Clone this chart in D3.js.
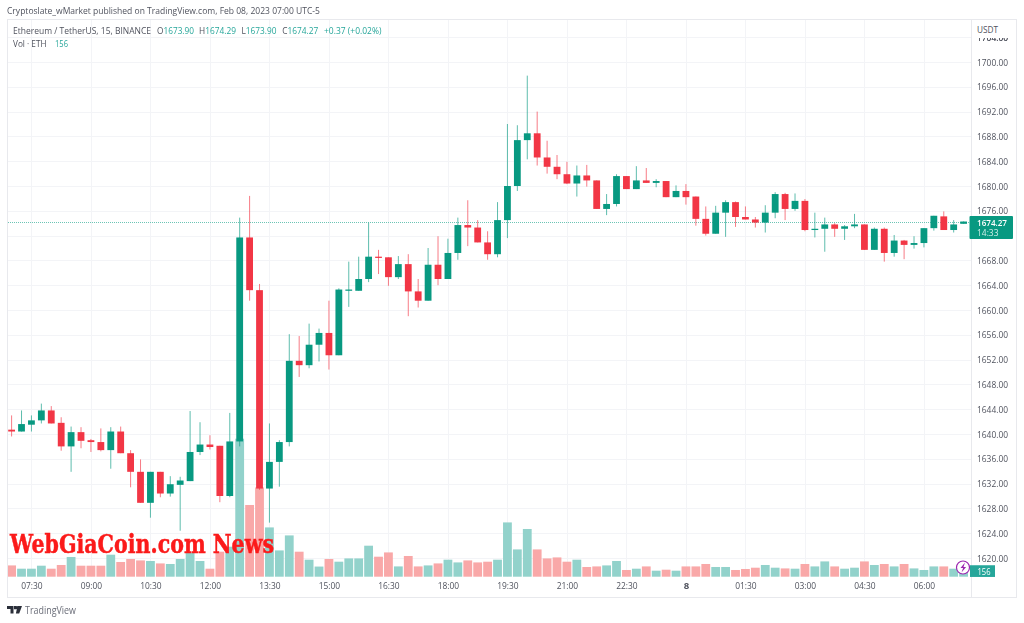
<!DOCTYPE html>
<html>
<head>
<meta charset="utf-8">
<script src="https://cdn.jsdelivr.net/npm/d3@7"></script>
<style>
  html, body { margin: 0; padding: 0; background: #fff; overflow: hidden; }
  svg { display: block; filter: blur(.35px); }
  text { font-family: "Open Sans", sans-serif; }
</style>
</head>
<body>
<svg id="chart" width="1024" height="623"></svg>
<script>
// 15 minute candles
const opens = [1640.7,1640.4,1641.5,1642.2,1643.8,1641.8,1638.0,1640.3,1639.0,1638.7,
  1637.4,1640.4,1636.9,1633.9,1628.9,1633.9,1630.4,1631.8,1632.4,1637.1,
  1638.3,1638.1,1630.0,1638.8,1671.7,1663.2,1631.2,1635.5,1638.7,1651.8,
  1651.1,1654.4,1656.3,1652.7,1663.1,1663.1,1665.0,1668.6,1668.5,1665.3,
  1667.4,1663.0,1661.5,1667.3,1665.0,1669.2,1673.7,1673.3,1670.9,1669.0,
  1674.5,1680.0,1687.4,1688.5,1684.6,1683.1,1681.9,1680.4,1681.7,1680.9,
  1676.3,1677.1,1681.6,1679.5,1680.9,1680.5,1680.8,1678.2,1679.2,1678.3,
  1674.7,1672.3,1675.7,1677.4,1675.0,1674.6,1674.1,1675.7,1678.7,1676.3,
  1677.6,1672.9,1673.1,1673.8,1673.1,1673.5,1673.8,1669.7,1673.1,1669.2,
  1671.2,1670.5,1670.8,1673.2,1675.1,1672.9,1673.90]
const highs = [1643.0,1643.8,1643.0,1644.9,1644.5,1642.7,1641.2,1641.1,1639.2,1640.9,
  1641.1,1641.2,1637.4,1635.9,1633.9,1633.9,1633.2,1633.1,1643.7,1641.9,
  1639.8,1638.1,1643.4,1674.9,1678.4,1664.2,1641.7,1639.0,1656.1,1655.8,
  1657.8,1657.0,1661.5,1663.5,1667.8,1668.6,1674.1,1669.7,1668.5,1668.7,
  1669.0,1665.0,1670.0,1671.9,1671.5,1674.9,1677.7,1674.5,1672.7,1677.4,
  1690.0,1689.8,1697.8,1692.0,1687.3,1685.0,1683.9,1683.3,1683.4,1680.9,
  1678.7,1681.9,1681.6,1683.2,1682.9,1681.1,1680.8,1680.1,1680.3,1678.3,
  1676.7,1676.8,1677.7,1677.5,1676.7,1675.0,1676.9,1679.0,1678.9,1678.8,
  1677.9,1675.7,1674.9,1674.0,1673.7,1675.5,1673.8,1673.3,1673.3,1672.1,
  1671.3,1671.9,1673.2,1675.2,1675.9,1674.5,1674.29]
const lows = [1639.6,1640.4,1640.4,1641.7,1641.7,1637.3,1633.9,1637.7,1637.1,1637.2,
  1634.4,1636.9,1631.4,1628.9,1626.5,1629.8,1629.9,1624.4,1632.4,1636.6,
  1637.5,1629.0,1629.8,1638.0,1661.5,1631.0,1625.7,1631.5,1638.0,1649.2,
  1650.6,1651.7,1650.4,1652.7,1660.5,1663.1,1664.5,1665.8,1663.9,1665.0,
  1659.0,1660.4,1661.5,1664.0,1665.0,1668.1,1670.3,1670.9,1668.1,1668.5,
  1671.6,1679.2,1684.3,1683.3,1682.0,1681.1,1680.3,1678.3,1679.9,1676.3,
  1675.3,1676.7,1679.5,1679.5,1680.5,1679.8,1678.2,1678.2,1677.0,1673.6,
  1672.0,1672.3,1671.8,1673.4,1674.6,1673.3,1672.5,1674.8,1674.5,1676.0,
  1672.7,1671.7,1669.4,1671.8,1671.3,1673.2,1669.7,1669.7,1667.8,1668.6,
  1668.2,1669.9,1670.1,1672.8,1672.9,1672.5,1673.90]
const closes = [1640.4,1641.6,1642.2,1643.8,1641.7,1638.0,1640.3,1638.9,1638.7,1637.4,
  1640.4,1636.9,1633.9,1628.9,1633.9,1630.4,1631.9,1632.5,1637.1,1638.3,
  1637.9,1630.0,1638.8,1671.7,1663.2,1631.2,1635.5,1638.7,1651.8,1651.1,
  1654.4,1656.3,1652.7,1663.3,1663.3,1665.0,1668.6,1668.4,1665.3,1667.4,
  1663.0,1661.5,1667.3,1665.0,1669.2,1673.7,1673.3,1670.9,1669.0,1674.5,
  1680.0,1687.4,1688.5,1684.6,1683.1,1681.9,1680.4,1681.7,1680.9,1676.3,
  1677.1,1681.6,1679.5,1680.9,1680.5,1680.8,1678.2,1679.2,1678.2,1674.7,
  1672.3,1675.7,1677.4,1675.0,1674.6,1674.1,1675.7,1678.7,1676.3,1677.6,
  1672.9,1673.1,1673.8,1673.1,1673.5,1673.8,1669.7,1673.1,1669.2,1671.2,
  1670.5,1670.8,1673.2,1675.2,1672.9,1673.8,1674.27]
const volumes = [395,280,280,385,280,410,690,385,385,385,
  770,515,620,570,550,465,445,620,840,550,
  280,875,1050,4830,2510,3125,1725,920,1445,875,
  595,355,620,525,640,640,1085,700,850,360,
  725,360,395,465,595,500,570,500,525,595,
  1900,955,1670,955,640,675,525,595,340,360,
  395,550,235,280,360,210,245,210,360,360,
  445,340,340,235,270,315,410,315,290,280,
  445,360,535,360,280,315,535,410,445,360,
  445,290,235,360,360,280,156]

const priceTicks = d3.range(1620, 1705, 4)
const timeIndex = [2,8,14,20,26,32,38,44,50,56,62,68,74,80,86,92]
const timeLabels = ['07:30','09:00','10:30','12:00','13:30','15:00','16:30','18:00','19:30','21:00','22:30','8','01:30','03:00','04:30','06:00']
const lastPrice = 1674.27
const lastVolume = 156
const countdown = '14:33'
const headerText = 'Cryptoslate_wMarket published on TradingView.com, Feb 08, 2023 07:00 UTC-5'
const symbolText = 'Ethereum / TetherUS, 15, BINANCE'
const ohlcLegend = [['O','1673.90',157,37],['H','1674.29',199,37],['L','1673.90',241.5,35],['C','1674.27',282.3,36]]
const changeText = '+0.37 (+0.02%)'
const watermark = 'WebGiaCoin.com News'

const upColor = '#089981', downColor = '#f23645'
const upVol = '#92d2cb', downVol = '#f9a8a8'
const gridColor = '#f3f4f7', frameColor = '#e8e9ed', axisText = '#50535e'

const svg = d3.select('#chart')
const x = d3.scaleLinear().domain([0, 96]).range([11.6, 963.6])
const y = d3.scaleLinear().domain([1620, 1700]).range([558, 62])
const vol = d3.scaleLinear().domain([0, 3500]).range([576.7, 476.7])
const idx = d3.range(opens.length)
const isUp = i => closes[i] >= opens[i]

// squeeze a label to the width it has in the picture
const fit = (sel, w) => sel.attr('textLength', w).attr('lengthAdjust', 'spacingAndGlyphs')

// grid
svg.append('g').selectAll('line').data(priceTicks).enter().append('line')
  .attr('x1', 8).attr('x2', 971)
  .attr('y1', d => Math.round(y(d)) + .5).attr('y2', d => Math.round(y(d)) + .5)
  .attr('stroke', gridColor)
svg.append('g').selectAll('line').data(timeIndex).enter().append('line')
  .attr('x1', d => Math.round(x(d)) + .5).attr('x2', d => Math.round(x(d)) + .5)
  .attr('y1', 20).attr('y2', 577)
  .attr('stroke', gridColor)

// volume under the candles
svg.append('g').selectAll('rect').data(idx).enter().append('rect')
  .attr('x', i => x(i) - 4.4)
  .attr('width', 8.8)
  .attr('y', i => vol(volumes[i]))
  .attr('height', i => vol(0) - vol(volumes[i]))
  .attr('fill', i => isUp(i) ? upVol : downVol)

// last price line
svg.append('line')
  .attr('x1', 8).attr('x2', 971)
  .attr('y1', Math.round(y(lastPrice)) + .5).attr('y2', Math.round(y(lastPrice)) + .5)
  .attr('stroke', '#6cc5b5').attr('stroke-dasharray', '1 1')

// wicks + bodies
svg.append('g').selectAll('line').data(idx).enter().append('line')
  .attr('x1', i => x(i)).attr('x2', i => x(i))
  .attr('y1', i => y(highs[i])).attr('y2', i => y(lows[i]))
  .attr('stroke', i => isUp(i) ? upColor : downColor)
  .attr('stroke-opacity', .65)
svg.append('g').selectAll('rect').data(idx).enter().append('rect')
  .attr('x', i => x(i) - 3.4)
  .attr('width', 6.8)
  .attr('y', i => y(Math.max(opens[i], closes[i])))
  .attr('height', i => Math.max(1.2, Math.abs(y(opens[i]) - y(closes[i]))))
  .attr('fill', i => isUp(i) ? upColor : downColor)

// watermark
fit(svg.append('text')
  .attr('x', 10).attr('y', 552.5)
  .attr('font-size', 26).attr('font-weight', 700)
  .style('font-family', '"DejaVu Serif", serif')
  .attr('fill', '#fb1a1a').attr('stroke', '#fb1a1a').attr('stroke-width', .5)
  .text(watermark), 264)

// axis column
svg.append('rect').attr('x', 972).attr('y', 20).attr('width', 44).attr('height', 577).attr('fill', '#fff')

const yAxis = d3.axisRight(y).tickValues(priceTicks.concat([1704])).tickSize(0).tickPadding(0).tickFormat(d3.format('.2f'))
const yG = svg.append('g').attr('transform', 'translate(977,0)').call(yAxis)
yG.select('.domain').remove()
yG.selectAll('text').attr('font-size', 9.6).attr('fill', axisText).attr('textLength', 31).attr('lengthAdjust', 'spacingAndGlyphs')

// USDT box clips the 1704 label
svg.append('rect').attr('x', 972).attr('y', 21).attr('width', 44).attr('height', 17).attr('fill', '#fff')
fit(svg.append('text').attr('x', 977).attr('y', 33).attr('font-size', 9.6).attr('fill', axisText).text('USDT'), 21)

const xAxis = d3.axisBottom(x).tickValues(timeIndex).tickSize(0).tickPadding(0).tickFormat((d, i) => timeLabels[i])
const xG = svg.append('g').attr('transform', 'translate(0,582.5)').call(xAxis)
xG.select('.domain').remove()
xG.selectAll('text').attr('font-size', 9.6).attr('fill', axisText)
  .attr('font-weight', (d, i) => timeLabels[i] === '8' ? 700 : 400)
  .filter((d, i) => timeLabels[i] !== '8').attr('textLength', 21.5).attr('lengthAdjust', 'spacingAndGlyphs')

// frame
svg.append('rect').attr('x', 7.5).attr('y', 19.5).attr('width', 1009).attr('height', 578)
  .attr('fill', 'none').attr('stroke', frameColor)
svg.append('line').attr('x1', 971.5).attr('x2', 971.5).attr('y1', 20).attr('y2', 597).attr('stroke', frameColor)

// last price tag
svg.append('rect').attr('x', 969.5).attr('y', y(lastPrice) - 5.5).attr('width', 43.5).attr('height', 23).attr('fill', upColor).attr('rx', 1)
fit(svg.append('text').attr('x', 977).attr('y', y(lastPrice) + 4.5)
  .attr('font-size', 9.6).attr('font-weight', 600).attr('fill', '#fff').text(d3.format('.2f')(lastPrice)), 30)
fit(svg.append('text').attr('x', 977).attr('y', y(lastPrice) + 14.8)
  .attr('font-size', 9.6).attr('fill', '#cfeee8').text(countdown), 21.5)

// volume tag + lightning icon
svg.append('rect').attr('x', 970).attr('y', vol(lastVolume) - 7).attr('width', 25).attr('height', 11.7).attr('fill', '#26a69a')
fit(svg.append('text').attr('x', 977.5).attr('y', vol(lastVolume) + 2.5)
  .attr('font-size', 9.6).attr('fill', '#fff').text(lastVolume), 13)
svg.append('circle').attr('cx', 963).attr('cy', 567.5).attr('r', 6.5)
  .attr('fill', '#fff').attr('stroke', '#9c27b0').attr('stroke-width', 1.2)
svg.append('path').attr('d', 'M965 562.5l-4.5 5.5h2.6l-1.6 4.5 4.6-5.6h-2.6z').attr('fill', '#9c27b0')

// header + legend
fit(svg.append('text').attr('x', 7).attr('y', 14).attr('font-size', 9.6).attr('fill', '#50535e').text(headerText), 313)
fit(svg.append('text').attr('x', 13).attr('y', 34).attr('font-size', 9.6).attr('fill', '#50535e').text(symbolText), 138)
ohlcLegend.forEach(d => {
  const t = svg.append('text').attr('x', d[2]).attr('y', 34).attr('font-size', 9.6).attr('fill', '#50535e').text(d[0])
  t.append('tspan').attr('fill', '#26a69a').text(d[1])
  fit(t, d[3])
})
fit(svg.append('text').attr('x', 324).attr('y', 34).attr('font-size', 9.6).attr('fill', '#26a69a').text(changeText), 57.5)
fit(svg.append('text').attr('x', 13).attr('y', 47).attr('font-size', 9.6).attr('fill', '#50535e').text('Vol · ETH'), 33.5)
fit(svg.append('text').attr('x', 55).attr('y', 47).attr('font-size', 9.6).attr('fill', '#26a69a').text(lastVolume), 13)

// tradingview mark
svg.append('path').attr('fill', '#2a2e39')
  .attr('d', 'M7 606h6.5v7.5h-3v-4.5h-3.5zM14 606h2.2a1.2 1.2 0 0 1 0 3.2h-2.2zM17.5 606h4.5l-2.8 7.5h-3.3z')
fit(svg.append('text').attr('x', 25).attr('y', 613.5).attr('font-size', 10).attr('fill', '#6a6d78').text('TradingView'), 51)
</script>
</body>
</html>
